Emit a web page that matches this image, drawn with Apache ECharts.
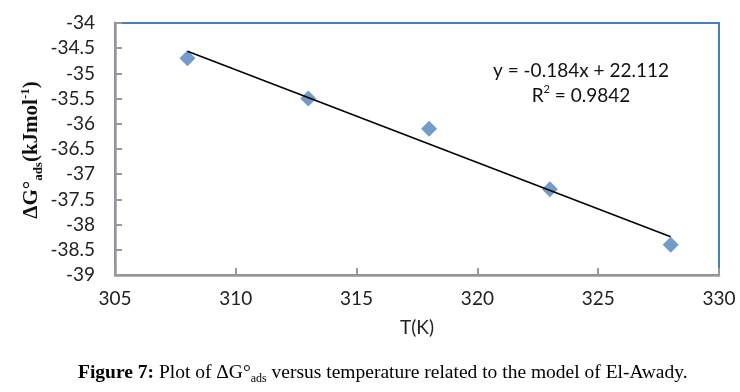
<!DOCTYPE html>
<html>
<head>
<meta charset="utf-8">
<script src="https://cdn.jsdelivr.net/npm/echarts@6/dist/echarts.min.js"></script>
<style>
html,body{margin:0;padding:0;background:#fff;}
#chart{width:740px;height:392px;}
</style>
</head>
<body>
<div id="chart"></div>
<script>
const temperatures = [308, 313, 318, 323, 328];
const deltaG = [-34.7, -35.5, -36.1, -37.3, -38.4];
const trendX = [308, 328];
const trendY = [-34.56, -38.24];
const xTicks = [305, 310, 315, 320, 325, 330];
const yTicks = [-39, -38.5, -38, -37.5, -37, -36.5, -36, -35.5, -35, -34.5, -34];
const equationText = 'y = -0.184x + 22.112';
const r2Value = '0.9842';

const chart = echarts.init(document.getElementById('chart'), null, {renderer: 'canvas'});
const sans = 'Lato, "Noto Sans", sans-serif';
const serif = '"Liberation Serif", "DejaVu Serif", serif';

chart.setOption({
  animation: false,
  backgroundColor: '#fff',
  grid: {
    left: 115, right: 21, top: 23, bottom: 117,
    show: true, borderColor: '#4a7ebb', borderWidth: 2, backgroundColor: 'transparent'
  },
  xAxis: {
    type: 'value',
    min: xTicks[0], max: xTicks[xTicks.length - 1], interval: 5,
    name: 'T(K)', nameLocation: 'middle', nameGap: 43,
    nameTextStyle: {fontFamily: sans, fontSize: 19, color: '#222'},
    axisLine: {lineStyle: {color: '#999', width: 2.5}},
    axisTick: {inside: true, length: 7, lineStyle: {color: '#999', width: 2}},
    axisLabel: {fontFamily: sans, fontSize: 19, color: '#222', margin: 14},
    splitLine: {show: false}
  },
  yAxis: {
    type: 'value',
    min: yTicks[0], max: yTicks[yTicks.length - 1], interval: 0.5,
    axisLine: {lineStyle: {color: '#999', width: 2.5}},
    axisTick: {inside: true, length: 7, lineStyle: {color: '#999', width: 2}},
    axisLabel: {fontFamily: sans, fontSize: 19, color: '#222', margin: 20},
    splitLine: {show: false}
  },
  series: [
    {
      type: 'line',
      data: trendX.map((x, i) => [x, trendY[i]]),
      showSymbol: false, symbol: 'none',
      lineStyle: {color: '#000', width: 1.5},
      z: 3
    },
    {
      type: 'scatter',
      data: temperatures.map((t, i) => [t, deltaG[i]]),
      symbol: 'diamond', symbolSize: [16, 16],
      itemStyle: {color: '#4f81bd'},
      z: 2
    }
  ],
  graphic: [
    {
      type: 'text',
      x: 32, y: 150, rotation: Math.PI / 2,
      style: {
        text: '{b|ΔG°}{s|ads}{b|(kJmol}{p|-1}{b|)}',
        align: 'center', verticalAlign: 'middle',
        fill: '#111',
        rich: {
          b: {fontFamily: serif, fontWeight: 'bold', fontSize: 21, lineHeight: 26, fill: '#111'},
          s: {fontFamily: serif, fontWeight: 'bold', fontSize: 13, lineHeight: 26, verticalAlign: 'bottom', padding: [10, 0, 0, 0], fill: '#111'},
          p: {fontFamily: serif, fontWeight: 'bold', fontSize: 13, lineHeight: 26, verticalAlign: 'top', padding: [0, 0, 8, 0], fill: '#111'}
        }
      }
    },
    {
      type: 'text',
      x: 581, y: 71,
      style: {text: equationText, fontFamily: sans, fontSize: 19, fill: '#111', align: 'center', verticalAlign: 'middle'}
    },
    {
      type: 'text',
      x: 581, y: 96,
      style: {
        text: '{n|R}{p|2}{n| = ' + r2Value + '}',
        align: 'center', verticalAlign: 'middle',
        rich: {
          n: {fontFamily: sans, fontSize: 19, fill: '#111', lineHeight: 24},
          p: {fontFamily: sans, fontSize: 11, fill: '#111', lineHeight: 24, verticalAlign: 'top', padding: [0, 0, 8, 0]}
        }
      }
    },
    {
      type: 'text',
      x: 78, y: 373,
      style: {
        text: '{b|Figure 7:}{n| Plot of ΔG°}{s|ads}{n| versus temperature related to the model of El-Awady.}',
        align: 'left', verticalAlign: 'middle',
        rich: {
          b: {fontFamily: serif, fontWeight: 'bold', fontSize: 19.5, lineHeight: 24, fill: '#000'},
          n: {fontFamily: serif, fontSize: 19.5, lineHeight: 24, fill: '#000'},
          s: {fontFamily: serif, fontSize: 12, lineHeight: 24, verticalAlign: 'bottom', padding: [10, 0, 0, 0], fill: '#000'}
        }
      }
    }
  ]
});
</script>
</body>
</html>
